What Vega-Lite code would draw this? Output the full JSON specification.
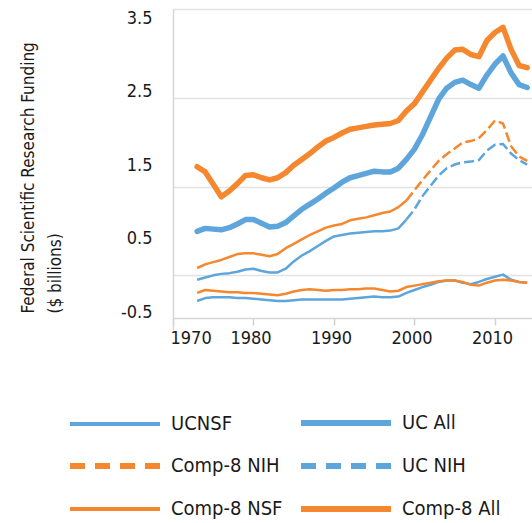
{
  "$schema": "https://vega.github.io/schema/vega-lite/v6.json",
  "width": 359,
  "height": 321,
  "autosize": {"type": "none"},
  "padding": {"left": 173, "top": 9, "right": 0, "bottom": 193},
  "config": {
    "font": "Liberation Sans Narrow, DejaVu Sans Condensed, sans-serif",
    "view": {"stroke": null}
  },
  "data": {"values": [
    {"year":1973,"series":"UCNSF","value":-0.35},{"year":1974,"series":"UCNSF","value":-0.31},{"year":1975,"series":"UCNSF","value":-0.30},{"year":1976,"series":"UCNSF","value":-0.30},{"year":1977,"series":"UCNSF","value":-0.30},{"year":1978,"series":"UCNSF","value":-0.31},{"year":1979,"series":"UCNSF","value":-0.31},{"year":1980,"series":"UCNSF","value":-0.32},{"year":1981,"series":"UCNSF","value":-0.33},{"year":1982,"series":"UCNSF","value":-0.34},
    {"year":1983,"series":"UCNSF","value":-0.35},{"year":1984,"series":"UCNSF","value":-0.35},{"year":1985,"series":"UCNSF","value":-0.34},{"year":1986,"series":"UCNSF","value":-0.33},{"year":1987,"series":"UCNSF","value":-0.33},{"year":1988,"series":"UCNSF","value":-0.33},{"year":1989,"series":"UCNSF","value":-0.33},{"year":1990,"series":"UCNSF","value":-0.33},{"year":1991,"series":"UCNSF","value":-0.33},{"year":1992,"series":"UCNSF","value":-0.32},
    {"year":1993,"series":"UCNSF","value":-0.31},{"year":1994,"series":"UCNSF","value":-0.30},{"year":1995,"series":"UCNSF","value":-0.29},{"year":1996,"series":"UCNSF","value":-0.30},{"year":1997,"series":"UCNSF","value":-0.30},{"year":1998,"series":"UCNSF","value":-0.29},{"year":1999,"series":"UCNSF","value":-0.24},{"year":2000,"series":"UCNSF","value":-0.20},{"year":2001,"series":"UCNSF","value":-0.16},{"year":2002,"series":"UCNSF","value":-0.13},
    {"year":2003,"series":"UCNSF","value":-0.09},{"year":2004,"series":"UCNSF","value":-0.07},{"year":2005,"series":"UCNSF","value":-0.07},{"year":2006,"series":"UCNSF","value":-0.10},{"year":2007,"series":"UCNSF","value":-0.12},{"year":2008,"series":"UCNSF","value":-0.09},{"year":2009,"series":"UCNSF","value":-0.05},{"year":2010,"series":"UCNSF","value":-0.02},{"year":2011,"series":"UCNSF","value":0.01},{"year":2012,"series":"UCNSF","value":-0.06},
    {"year":2013,"series":"UCNSF","value":-0.09},{"year":2014,"series":"UCNSF","value":-0.10},

    {"year":1973,"series":"Comp-8 NSF","value":-0.24},{"year":1974,"series":"Comp-8 NSF","value":-0.20},{"year":1975,"series":"Comp-8 NSF","value":-0.21},{"year":1976,"series":"Comp-8 NSF","value":-0.22},{"year":1977,"series":"Comp-8 NSF","value":-0.23},{"year":1978,"series":"Comp-8 NSF","value":-0.23},{"year":1979,"series":"Comp-8 NSF","value":-0.24},{"year":1980,"series":"Comp-8 NSF","value":-0.24},{"year":1981,"series":"Comp-8 NSF","value":-0.25},{"year":1982,"series":"Comp-8 NSF","value":-0.26},
    {"year":1983,"series":"Comp-8 NSF","value":-0.27},{"year":1984,"series":"Comp-8 NSF","value":-0.25},{"year":1985,"series":"Comp-8 NSF","value":-0.22},{"year":1986,"series":"Comp-8 NSF","value":-0.20},{"year":1987,"series":"Comp-8 NSF","value":-0.19},{"year":1988,"series":"Comp-8 NSF","value":-0.20},{"year":1989,"series":"Comp-8 NSF","value":-0.21},{"year":1990,"series":"Comp-8 NSF","value":-0.20},{"year":1991,"series":"Comp-8 NSF","value":-0.20},{"year":1992,"series":"Comp-8 NSF","value":-0.19},
    {"year":1993,"series":"Comp-8 NSF","value":-0.19},{"year":1994,"series":"Comp-8 NSF","value":-0.18},{"year":1995,"series":"Comp-8 NSF","value":-0.18},{"year":1996,"series":"Comp-8 NSF","value":-0.20},{"year":1997,"series":"Comp-8 NSF","value":-0.22},{"year":1998,"series":"Comp-8 NSF","value":-0.21},{"year":1999,"series":"Comp-8 NSF","value":-0.16},{"year":2000,"series":"Comp-8 NSF","value":-0.14},{"year":2001,"series":"Comp-8 NSF","value":-0.12},{"year":2002,"series":"Comp-8 NSF","value":-0.10},
    {"year":2003,"series":"Comp-8 NSF","value":-0.08},{"year":2004,"series":"Comp-8 NSF","value":-0.07},{"year":2005,"series":"Comp-8 NSF","value":-0.07},{"year":2006,"series":"Comp-8 NSF","value":-0.09},{"year":2007,"series":"Comp-8 NSF","value":-0.13},{"year":2008,"series":"Comp-8 NSF","value":-0.14},{"year":2009,"series":"Comp-8 NSF","value":-0.10},{"year":2010,"series":"Comp-8 NSF","value":-0.07},{"year":2011,"series":"Comp-8 NSF","value":-0.06},{"year":2012,"series":"Comp-8 NSF","value":-0.07},
    {"year":2013,"series":"Comp-8 NSF","value":-0.09},{"year":2014,"series":"Comp-8 NSF","value":-0.10},

    {"year":1973,"series":"UC NIH","value":-0.06},{"year":1974,"series":"UC NIH","value":-0.03},{"year":1975,"series":"UC NIH","value":0.00},{"year":1976,"series":"UC NIH","value":0.02},{"year":1977,"series":"UC NIH","value":0.03},{"year":1978,"series":"UC NIH","value":0.05},{"year":1979,"series":"UC NIH","value":0.08},{"year":1980,"series":"UC NIH","value":0.09},{"year":1981,"series":"UC NIH","value":0.06},{"year":1982,"series":"UC NIH","value":0.04},
    {"year":1983,"series":"UC NIH","value":0.04},{"year":1984,"series":"UC NIH","value":0.09},{"year":1985,"series":"UC NIH","value":0.19},{"year":1986,"series":"UC NIH","value":0.27},{"year":1987,"series":"UC NIH","value":0.33},{"year":1988,"series":"UC NIH","value":0.40},{"year":1989,"series":"UC NIH","value":0.47},{"year":1990,"series":"UC NIH","value":0.53},{"year":1991,"series":"UC NIH","value":0.55},{"year":1992,"series":"UC NIH","value":0.57},
    {"year":1993,"series":"UC NIH","value":0.58},{"year":1994,"series":"UC NIH","value":0.59},{"year":1995,"series":"UC NIH","value":0.60},{"year":1996,"series":"UC NIH","value":0.60},{"year":1997,"series":"UC NIH","value":0.61},{"year":1998,"series":"UC NIH","value":0.64},{"year":1999,"series":"UC NIH","value":0.76},{"year":2000,"series":"UC NIH","value":0.90},{"year":2001,"series":"UC NIH","value":1.08},{"year":2002,"series":"UC NIH","value":1.22},
    {"year":2003,"series":"UC NIH","value":1.36},{"year":2004,"series":"UC NIH","value":1.46},{"year":2005,"series":"UC NIH","value":1.51},{"year":2006,"series":"UC NIH","value":1.54},{"year":2007,"series":"UC NIH","value":1.55},{"year":2008,"series":"UC NIH","value":1.57},{"year":2009,"series":"UC NIH","value":1.70},{"year":2010,"series":"UC NIH","value":1.78},{"year":2011,"series":"UC NIH","value":1.79},{"year":2012,"series":"UC NIH","value":1.66},
    {"year":2013,"series":"UC NIH","value":1.57},{"year":2014,"series":"UC NIH","value":1.51},

    {"year":1973,"series":"Comp-8 NIH","value":0.10},{"year":1974,"series":"Comp-8 NIH","value":0.15},{"year":1975,"series":"Comp-8 NIH","value":0.18},{"year":1976,"series":"Comp-8 NIH","value":0.21},{"year":1977,"series":"Comp-8 NIH","value":0.25},{"year":1978,"series":"Comp-8 NIH","value":0.29},{"year":1979,"series":"Comp-8 NIH","value":0.30},{"year":1980,"series":"Comp-8 NIH","value":0.30},{"year":1981,"series":"Comp-8 NIH","value":0.28},{"year":1982,"series":"Comp-8 NIH","value":0.26},
    {"year":1983,"series":"Comp-8 NIH","value":0.29},{"year":1984,"series":"Comp-8 NIH","value":0.37},{"year":1985,"series":"Comp-8 NIH","value":0.43},{"year":1986,"series":"Comp-8 NIH","value":0.49},{"year":1987,"series":"Comp-8 NIH","value":0.55},{"year":1988,"series":"Comp-8 NIH","value":0.60},{"year":1989,"series":"Comp-8 NIH","value":0.65},{"year":1990,"series":"Comp-8 NIH","value":0.68},{"year":1991,"series":"Comp-8 NIH","value":0.70},{"year":1992,"series":"Comp-8 NIH","value":0.75},
    {"year":1993,"series":"Comp-8 NIH","value":0.77},{"year":1994,"series":"Comp-8 NIH","value":0.79},{"year":1995,"series":"Comp-8 NIH","value":0.82},{"year":1996,"series":"Comp-8 NIH","value":0.85},{"year":1997,"series":"Comp-8 NIH","value":0.87},{"year":1998,"series":"Comp-8 NIH","value":0.93},{"year":1999,"series":"Comp-8 NIH","value":1.02},{"year":2000,"series":"Comp-8 NIH","value":1.16},{"year":2001,"series":"Comp-8 NIH","value":1.30},{"year":2002,"series":"Comp-8 NIH","value":1.43},
    {"year":2003,"series":"Comp-8 NIH","value":1.56},{"year":2004,"series":"Comp-8 NIH","value":1.65},{"year":2005,"series":"Comp-8 NIH","value":1.73},{"year":2006,"series":"Comp-8 NIH","value":1.81},{"year":2007,"series":"Comp-8 NIH","value":1.83},{"year":2008,"series":"Comp-8 NIH","value":1.87},{"year":2009,"series":"Comp-8 NIH","value":1.98},{"year":2010,"series":"Comp-8 NIH","value":2.11},{"year":2011,"series":"Comp-8 NIH","value":2.07},{"year":2012,"series":"Comp-8 NIH","value":1.76},
    {"year":2013,"series":"Comp-8 NIH","value":1.62},{"year":2014,"series":"Comp-8 NIH","value":1.56},

    {"year":1973,"series":"UC All","value":0.60},{"year":1974,"series":"UC All","value":0.64},{"year":1975,"series":"UC All","value":0.63},{"year":1976,"series":"UC All","value":0.62},{"year":1977,"series":"UC All","value":0.65},{"year":1978,"series":"UC All","value":0.70},{"year":1979,"series":"UC All","value":0.76},{"year":1980,"series":"UC All","value":0.76},{"year":1981,"series":"UC All","value":0.71},{"year":1982,"series":"UC All","value":0.66},
    {"year":1983,"series":"UC All","value":0.67},{"year":1984,"series":"UC All","value":0.72},{"year":1985,"series":"UC All","value":0.81},{"year":1986,"series":"UC All","value":0.90},{"year":1987,"series":"UC All","value":0.97},{"year":1988,"series":"UC All","value":1.04},{"year":1989,"series":"UC All","value":1.12},{"year":1990,"series":"UC All","value":1.19},{"year":1991,"series":"UC All","value":1.27},{"year":1992,"series":"UC All","value":1.33},
    {"year":1993,"series":"UC All","value":1.36},{"year":1994,"series":"UC All","value":1.39},{"year":1995,"series":"UC All","value":1.42},{"year":1996,"series":"UC All","value":1.41},{"year":1997,"series":"UC All","value":1.41},{"year":1998,"series":"UC All","value":1.46},{"year":1999,"series":"UC All","value":1.58},{"year":2000,"series":"UC All","value":1.72},{"year":2001,"series":"UC All","value":1.92},{"year":2002,"series":"UC All","value":2.16},
    {"year":2003,"series":"UC All","value":2.40},{"year":2004,"series":"UC All","value":2.55},{"year":2005,"series":"UC All","value":2.63},{"year":2006,"series":"UC All","value":2.66},{"year":2007,"series":"UC All","value":2.60},{"year":2008,"series":"UC All","value":2.55},{"year":2009,"series":"UC All","value":2.73},{"year":2010,"series":"UC All","value":2.88},{"year":2011,"series":"UC All","value":2.99},{"year":2012,"series":"UC All","value":2.76},
    {"year":2013,"series":"UC All","value":2.60},{"year":2014,"series":"UC All","value":2.56},

    {"year":1973,"series":"Comp-8 All","value":1.48},{"year":1974,"series":"Comp-8 All","value":1.41},{"year":1975,"series":"Comp-8 All","value":1.24},{"year":1976,"series":"Comp-8 All","value":1.07},{"year":1977,"series":"Comp-8 All","value":1.15},{"year":1978,"series":"Comp-8 All","value":1.25},{"year":1979,"series":"Comp-8 All","value":1.36},{"year":1980,"series":"Comp-8 All","value":1.37},{"year":1981,"series":"Comp-8 All","value":1.33},{"year":1982,"series":"Comp-8 All","value":1.30},
    {"year":1983,"series":"Comp-8 All","value":1.33},{"year":1984,"series":"Comp-8 All","value":1.40},{"year":1985,"series":"Comp-8 All","value":1.50},{"year":1986,"series":"Comp-8 All","value":1.58},{"year":1987,"series":"Comp-8 All","value":1.66},{"year":1988,"series":"Comp-8 All","value":1.75},{"year":1989,"series":"Comp-8 All","value":1.83},{"year":1990,"series":"Comp-8 All","value":1.88},{"year":1991,"series":"Comp-8 All","value":1.94},{"year":1992,"series":"Comp-8 All","value":1.99},
    {"year":1993,"series":"Comp-8 All","value":2.01},{"year":1994,"series":"Comp-8 All","value":2.03},{"year":1995,"series":"Comp-8 All","value":2.05},{"year":1996,"series":"Comp-8 All","value":2.06},{"year":1997,"series":"Comp-8 All","value":2.07},{"year":1998,"series":"Comp-8 All","value":2.11},{"year":1999,"series":"Comp-8 All","value":2.24},{"year":2000,"series":"Comp-8 All","value":2.34},{"year":2001,"series":"Comp-8 All","value":2.50},{"year":2002,"series":"Comp-8 All","value":2.66},
    {"year":2003,"series":"Comp-8 All","value":2.82},{"year":2004,"series":"Comp-8 All","value":2.96},{"year":2005,"series":"Comp-8 All","value":3.07},{"year":2006,"series":"Comp-8 All","value":3.08},{"year":2007,"series":"Comp-8 All","value":3.01},{"year":2008,"series":"Comp-8 All","value":2.98},{"year":2009,"series":"Comp-8 All","value":3.20},{"year":2010,"series":"Comp-8 All","value":3.31},{"year":2011,"series":"Comp-8 All","value":3.38},{"year":2012,"series":"Comp-8 All","value":3.08},
    {"year":2013,"series":"Comp-8 All","value":2.86},{"year":2014,"series":"Comp-8 All","value":2.83}
  ]},
  "resolve": {"axis": {"y": "independent"}},
  "layer": [
    {
      "transform": [{"filter": "false"}],
      "mark": {"type": "line"},
      "encoding": {
        "x": {"field": "year", "type": "quantitative", "scale": {"domain": [1970, 2014.6], "nice": false, "zero": false},
          "axis": {"orient": "bottom", "values": [1970, 1980, 1990, 2000, 2010], "format": "d", "grid": false, "offset": -12,
            "domainColor": "#d6d6d6", "domainWidth": 1.5, "tickColor": "#d0d0d0", "tickWidth": 1.5, "tickSize": 7,
            "labelFontSize": 18, "labelColor": "#1a1a1a", "labelPadding": 4, "labelOffset": -3, "title": null}},
        "y": {"field": "value", "type": "quantitative", "scale": {"domain": [-0.745, 3.63], "nice": false, "zero": false},
          "axis": {"orient": "left", "values": [0, 1.21, 2.42, 3.63], "grid": true, "gridColor": "#e2e2e2", "gridWidth": 1.5, "labels": false, "ticks": false, "domain": false, "title": null}},
        "color": {"field": "series", "type": "nominal",
          "scale": {"domain": ["UCNSF", "UC All", "Comp-8 NIH", "UC NIH", "Comp-8 NSF", "Comp-8 All"], "range": ["#5DA5DA", "#5DA5DA", "#F5882E", "#5DA5DA", "#F5882E", "#F5882E"]},
          "legend": {"orient": "none", "legendX": -68, "legendY": 404, "columns": 2, "direction": "horizontal", "title": null,
            "symbolType": "M-9,0H9", "symbolSize": 100, "labelOffset": 46, "labelFontSize": 20, "labelColor": "#1a1a1a",
            "columnPadding": 6, "rowPadding": 19}},
        "strokeDash": {"field": "series", "type": "nominal",
          "scale": {"domain": ["UCNSF", "UC All", "Comp-8 NIH", "UC NIH", "Comp-8 NSF", "Comp-8 All"], "range": [[1, 0], [1, 0], [15, 10], [15, 10], [1, 0], [1, 0]]}},
        "strokeWidth": {"field": "series", "type": "nominal",
          "scale": {"type": "ordinal", "domain": ["UCNSF", "UC All", "Comp-8 NIH", "UC NIH", "Comp-8 NSF", "Comp-8 All"], "range": [4, 6, 6, 6, 4, 6]}}
      }
    },
    {
      "transform": [{"filter": "datum.series === 'UCNSF' || datum.series === 'Comp-8 NSF' || ((datum.series === 'UC NIH' || datum.series === 'Comp-8 NIH') && datum.year <= 1999)"}],
      "mark": {"type": "line", "strokeWidth": 2.5, "strokeJoin": "round"},
      "encoding": {
        "x": {"field": "year", "type": "quantitative"},
        "y": {"field": "value", "type": "quantitative", "axis": null},
        "color": {"field": "series", "type": "nominal",
          "scale": {"domain": ["UCNSF", "UC All", "Comp-8 NIH", "UC NIH", "Comp-8 NSF", "Comp-8 All"], "range": ["#5DA5DA", "#5DA5DA", "#F5882E", "#5DA5DA", "#F5882E", "#F5882E"]},
          "legend": null}
      }
    },
    {
      "transform": [{"filter": "(datum.series === 'UC NIH' || datum.series === 'Comp-8 NIH') && datum.year >= 1999"}],
      "mark": {"type": "line", "strokeWidth": 2.5, "strokeDash": [10, 4]},
      "encoding": {
        "x": {"field": "year", "type": "quantitative"},
        "y": {"field": "value", "type": "quantitative", "axis": null},
        "color": {"field": "series", "type": "nominal",
          "scale": {"domain": ["UCNSF", "UC All", "Comp-8 NIH", "UC NIH", "Comp-8 NSF", "Comp-8 All"], "range": ["#5DA5DA", "#5DA5DA", "#F5882E", "#5DA5DA", "#F5882E", "#F5882E"]},
          "legend": null}
      }
    },
    {
      "transform": [{"filter": {"field": "series", "oneOf": ["UC All", "Comp-8 All"]}}],
      "mark": {"type": "line", "strokeWidth": 5.5, "strokeJoin": "round", "strokeCap": "round"},
      "encoding": {
        "x": {"field": "year", "type": "quantitative"},
        "y": {"field": "value", "type": "quantitative",
          "axis": {"orient": "left", "values": [-0.5, 0.5, 1.5, 2.5, 3.5], "grid": false, "ticks": false,
            "labelExpr": "datum.value < 0 ? '-' + format(-datum.value, '.1f') : format(datum.value, '.1f')",
            "domainColor": "#d6d6d6", "domainWidth": 1.5, "labelFontSize": 18, "labelColor": "#1a1a1a", "labelPadding": 21,
            "title": ["Federal Scientific Research Funding", "($ billions)"],
            "titleAngle": -90, "titleAlign": "left", "titleBaseline": "alphabetic", "titleX": -140, "titleY": 304,
            "titleFontSize": 17, "titleFontWeight": "normal", "titleColor": "#1a1a1a", "titleLineHeight": 27}},
        "color": {"field": "series", "type": "nominal",
          "scale": {"domain": ["UCNSF", "UC All", "Comp-8 NIH", "UC NIH", "Comp-8 NSF", "Comp-8 All"], "range": ["#5DA5DA", "#5DA5DA", "#F5882E", "#5DA5DA", "#F5882E", "#F5882E"]},
          "legend": null}
      }
    }
  ]
}
